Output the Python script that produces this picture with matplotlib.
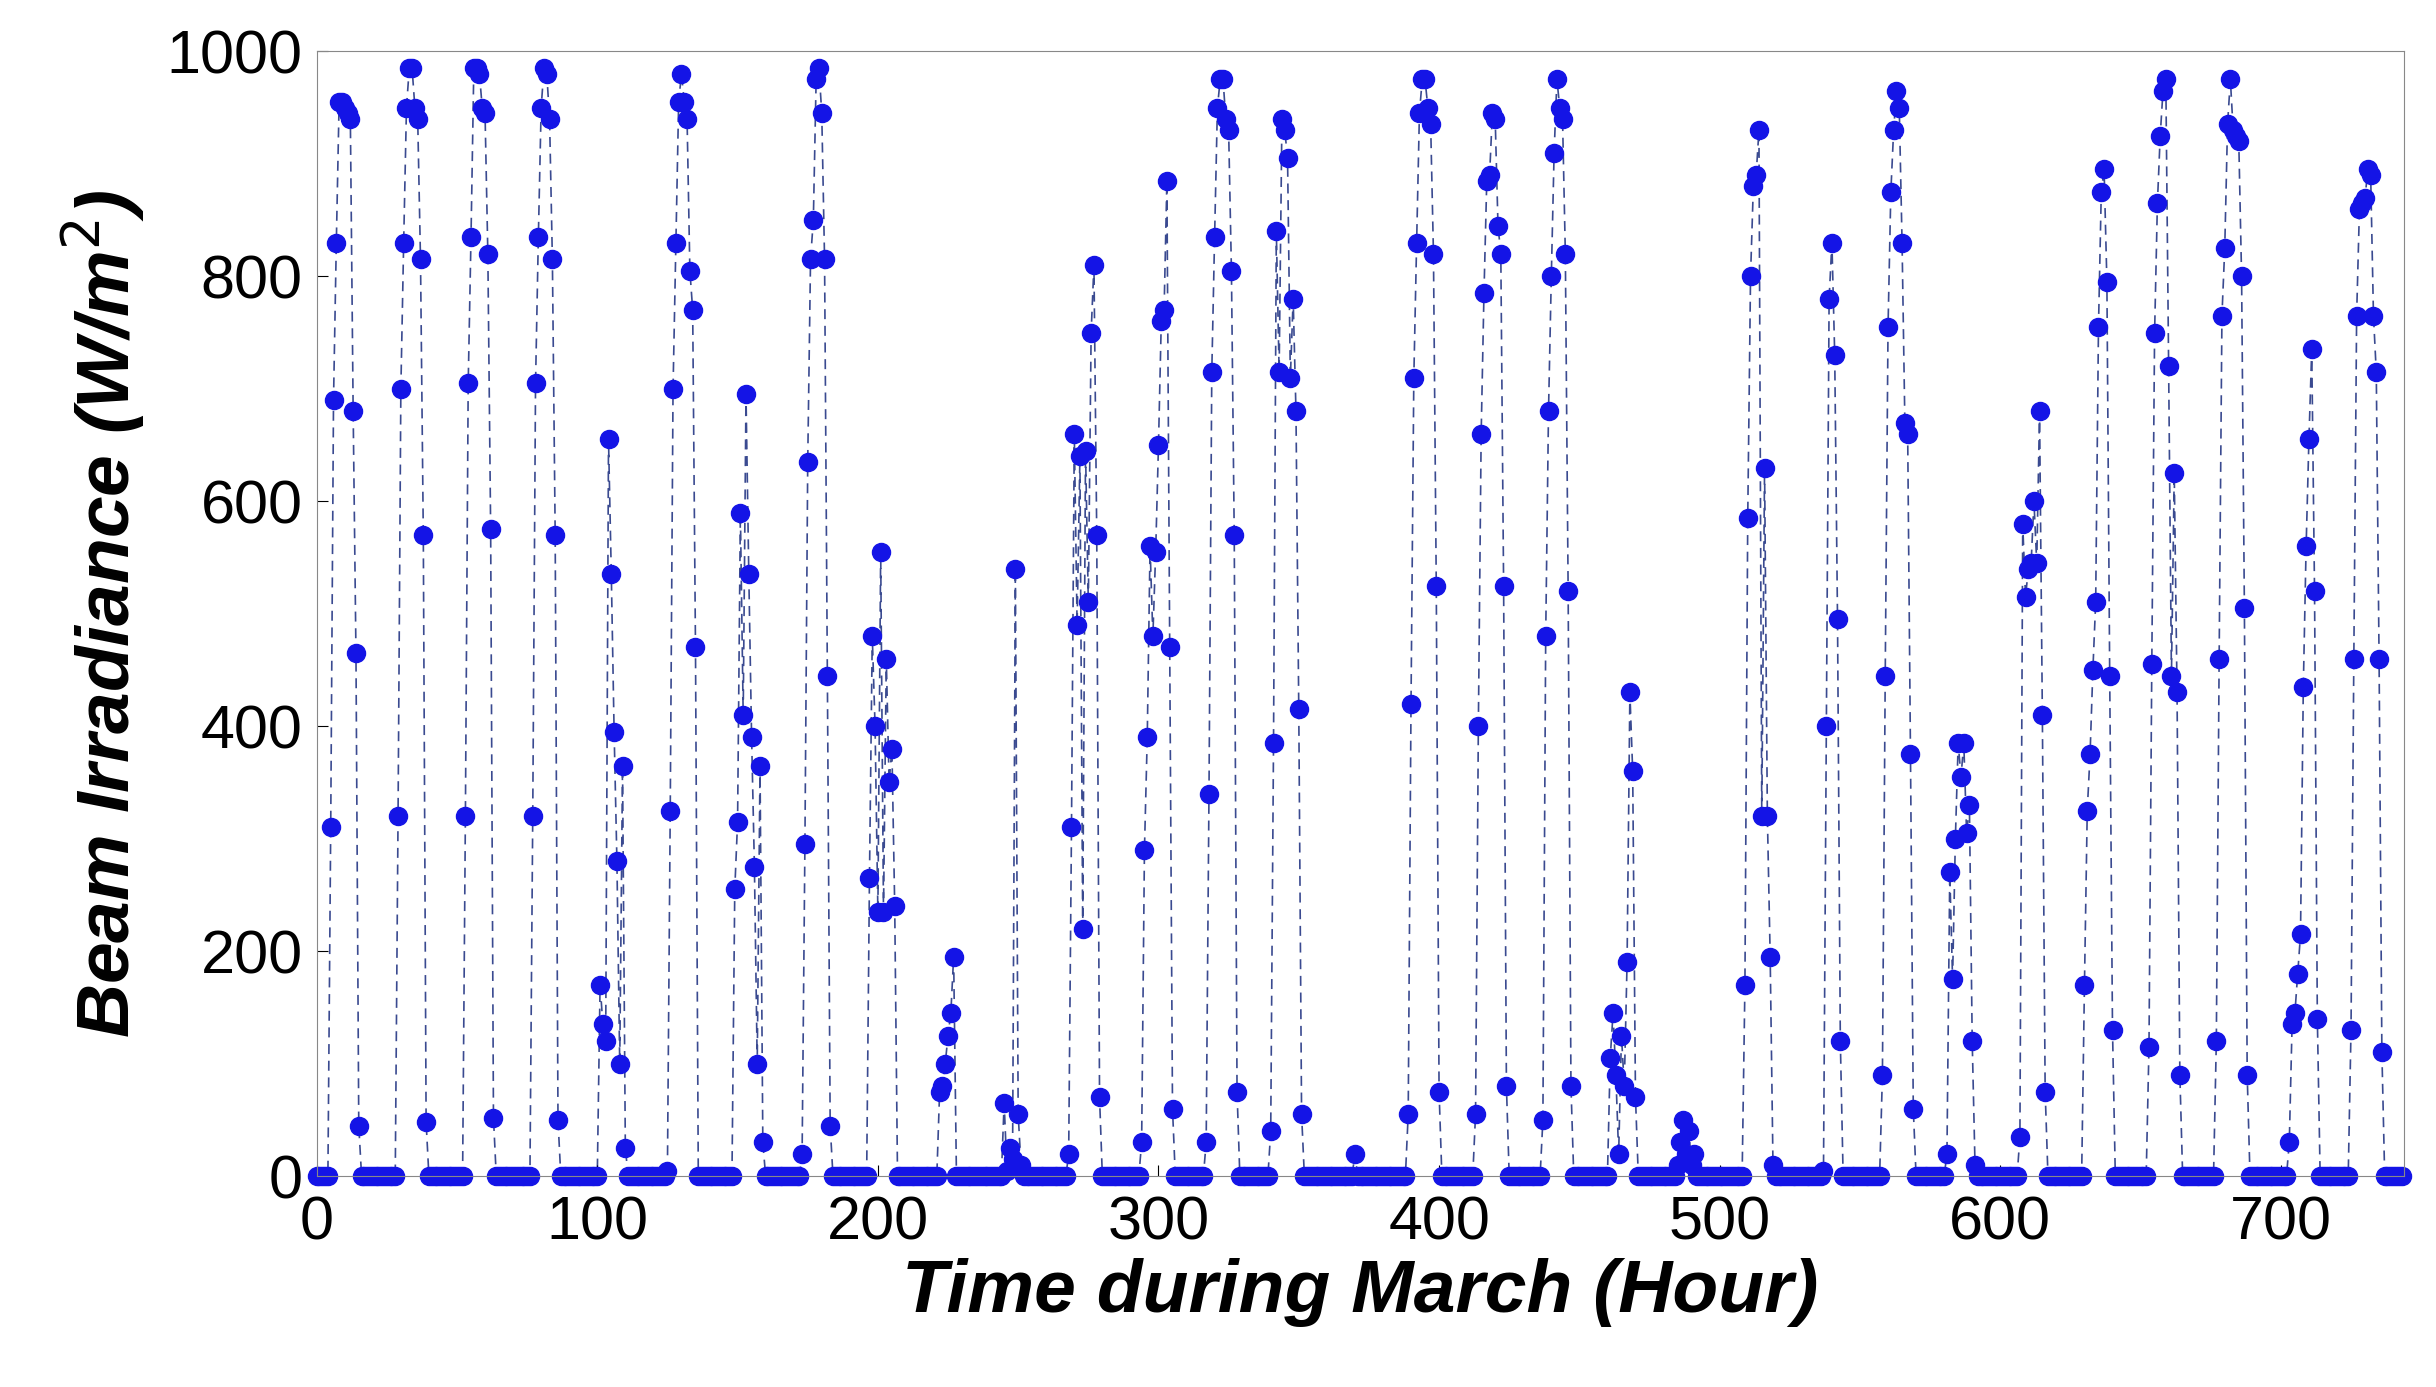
import numpy as np
import matplotlib.pyplot as plt

plt.rcParams['font.family'] = ['Liberation Sans', 'DejaVu Sans']

# daylight readings per day: (first hour, values); all other hours read as 0
day_starts = [5, 29, 53, 77, 101, 125, 149, 173, 197, 222, 245, 268, 294, 317, 340,
              370, 389, 413, 437, 461, 485, 509, 537, 558, 581, 607, 630, 653, 677, 703, 725]
day_values = [
    [310, 690, 830, 955, 955, 950, 945, 940, 680, 465, 45],
    [320, 700, 830, 950, 985, 985, 950, 940, 815, 570, 48],
    [320, 705, 835, 985, 985, 980, 950, 945, 820, 575, 52],
    [320, 705, 835, 950, 985, 980, 940, 815, 570, 50],
    [170, 135, 120, 655, 535, 395, 280, 100, 365, 25],
    [5, 325, 700, 830, 955, 980, 955, 940, 805, 770, 470],
    [255, 315, 590, 410, 695, 535, 390, 275, 100, 365, 30],
    [20, 295, 635, 815, 850, 975, 985, 945, 815, 445, 45],
    [265, 480, 400, 235, 555, 235, 460, 350, 380, 240],
    [75, 80, 100, 125, 145, 195],
    [65, 5, 25, 15, 540, 55, 10],
    [20, 310, 660, 490, 640, 220, 645, 510, 750, 810, 570, 70],
    [30, 290, 390, 560, 480, 555, 650, 760, 770, 885, 470, 60],
    [30, 340, 715, 835, 950, 975, 975, 940, 930, 805, 570, 75],
    [40, 385, 840, 715, 940, 930, 905, 710, 780, 680, 415, 55],
    [20],
    [55, 420, 710, 830, 945, 975, 975, 950, 935, 820, 525, 75],
    [55, 400, 660, 785, 885, 890, 945, 940, 845, 820, 525, 80],
    [50, 480, 680, 800, 910, 975, 950, 940, 820, 520, 80],
    [105, 145, 90, 20, 125, 80, 190, 430, 360, 70],
    [10, 30, 50, 20, 40, 10, 20],
    [170, 585, 800, 880, 890, 930, 320, 630, 320, 195, 10],
    [5, 400, 780, 830, 730, 495, 120],
    [90, 445, 755, 875, 930, 965, 950, 830, 670, 660, 375, 60],
    [20, 270, 175, 300, 385, 355, 385, 305, 330, 120, 10],
    [35, 580, 515, 540, 545, 600, 545, 680, 410, 75],
    [170, 325, 375, 450, 510, 755, 875, 895, 795, 445, 130],
    [115, 455, 750, 865, 925, 965, 975, 720, 445, 625, 430, 90],
    [120, 460, 765, 825, 935, 975, 930, 925, 920, 800, 505, 90],
    [30, 135, 145, 180, 215, 435, 560, 655, 735, 520, 140],
    [130, 460, 765, 860, 865, 870, 895, 890, 765, 715, 460, 110],
]

hours = np.arange(744)
beam = np.zeros(744)
for start, vals in zip(day_starts, day_values):
    beam[start:start + len(vals)] = vals

fig = plt.figure(figsize=(24.36, 13.87), dpi=100)
ax = fig.add_axes([0.13, 0.152, 0.857, 0.811])
ax.plot(hours, beam, linestyle=(0, (6, 4)), color='#3a4a90', lw=1.2, zorder=1)
ax.plot(hours, beam, 'o', color='#1414e6', markersize=13, zorder=2, clip_on=False)
ax.set_xlim(0, 744)
ax.set_ylim(0, 1000)
ax.set_xticks(range(0, 701, 100))
ax.set_yticks(range(0, 1001, 200))
ax.tick_params(labelsize=44, direction='in', length=8)
ax.tick_params(axis='x', pad=14)
ax.tick_params(axis='y', pad=10)
ax.set_xlabel('Time during March (Hour)', fontsize=54, fontweight='bold', style='italic', labelpad=4)
ax.set_ylabel('Beam Irradiance (W/m$^2$)', fontsize=54, fontweight='bold', style='italic', labelpad=14)
for s in ax.spines.values():
    s.set_color('#888888')

fig.savefig('out.png', dpi=100)
